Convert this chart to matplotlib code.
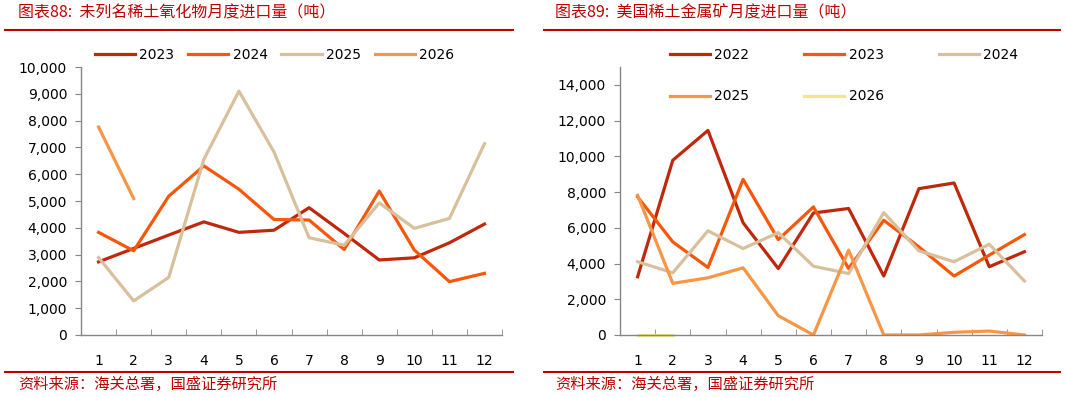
import matplotlib
matplotlib.use("Agg")
import matplotlib.pyplot as plt

plt.rcParams["font.family"] = ["DejaVu Sans", "Noto Sans CJK SC"]
plt.rcParams["axes.unicode_minus"] = False

months = list(range(1, 13))
month_labels = [str(m) for m in months]

# 图表88: 未列名稀土氧化物月度进口量（吨）
oxide_2023 = [2730, 3230, 3730, 4220, 3830, 3910, 4750, 3790, 2800, 2880, 3440, 4140]
oxide_2024 = [3830, 3140, 5180, 6310, 5440, 4310, 4290, 3190, 5370, 3170, 1990, 2300]
oxide_2025 = [2890, 1270, 2150, 6550, 9100, 6830, 3630, 3350, 4930, 3980, 4350, 7140]
oxide_2026 = [7760, 5090]

# 图表89: 美国稀土金属矿月度进口量（吨）
ore_2022 = [3260, 9780, 11450, 6280, 3720, 6830, 7080, 3300, 8190, 8510, 3820, 4660]
ore_2023 = [7730, 5210, 3780, 8710, 5340, 7170, 3720, 6420, 4930, 3300, 4470, 5620]
ore_2024 = [4100, 3480, 5830, 4840, 5730, 3850, 3440, 6850, 4710, 4100, 5080, 3020]
ore_2025 = [7820, 2890, 3200, 3760, 1080, 0, 4750, 0, 0, 150, 220, 0]
ore_2026 = [0, 0]

C_DARK = "#C0280C"
C_ORANGE = "#F8570A"
C_TAN = "#D8C09C"
C_LIGHT = "#F79646"
C_YELLOW = "#F5E48A"
RED = "#C00000"
GRAY = "#868686"
CJK = ["Noto Sans CJK SC", "DejaVu Sans"]

fig = plt.figure(figsize=(10.65, 3.97), dpi=100)


def style_axes(ax, ymax, ystep, ytop):
    ax.set_xlim(0.5, 12.5)
    ax.set_ylim(0, ymax)
    ax.set_yticks(range(0, ytop + 1, ystep))
    ax.set_yticklabels([f"{v:,}" for v in range(0, ytop + 1, ystep)])
    ax.set_xticks(months)
    ax.set_xticklabels(month_labels)
    ax.set_xticks([m + 0.5 for m in months], minor=True)
    ax.tick_params(axis="x", which="major", length=0, pad=14, labelsize=10)
    ax.tick_params(axis="x", which="minor", direction="in", length=4, color=GRAY)
    ax.tick_params(axis="y", direction="out", length=4, color=GRAY, pad=6, labelsize=10)
    for s in ["top", "right"]:
        ax.spines[s].set_visible(False)
    for s in ["left", "bottom"]:
        ax.spines[s].set_color(GRAY)
        ax.spines[s].set_linewidth(1.0)


lw = 2.3

# 左图
ax1 = fig.add_axes([0.0761, 0.1562, 0.3953, 0.675])
ax1.plot(months, oxide_2023, color=C_DARK, lw=lw, label="2023")
ax1.plot(months, oxide_2024, color=C_ORANGE, lw=lw, label="2024")
ax1.plot(months, oxide_2025, color=C_TAN, lw=lw, label="2025")
ax1.plot(months[:len(oxide_2026)], oxide_2026, color=C_LIGHT, lw=lw, label="2026")
style_axes(ax1, 10000, 1000, 10000)
ax1.legend(loc="upper left", bbox_to_anchor=(0.089, 0.88), bbox_transform=fig.transFigure,
           ncol=4, frameon=False, fontsize=10, handlelength=2.9, handletextpad=0.3,
           columnspacing=1.0, borderaxespad=0, borderpad=0)

# 右图
ax2 = fig.add_axes([0.5822, 0.1562, 0.3962, 0.675])
l22, = ax2.plot(months, ore_2022, color=C_DARK, lw=lw, label="2022")
l23, = ax2.plot(months, ore_2023, color=C_ORANGE, lw=lw, label="2023")
l24, = ax2.plot(months, ore_2024, color=C_TAN, lw=lw, label="2024")
l25, = ax2.plot(months, ore_2025, color=C_LIGHT, lw=lw, label="2025")
l26, = ax2.plot(months[:len(ore_2026)], ore_2026, color=C_YELLOW, lw=lw, label="2026", clip_on=False)
style_axes(ax2, 15000, 2000, 14000)
# 按行排列图例
handles = [l22, l25, l23, l26, l24]
ax2.legend(handles, [h.get_label() for h in handles], loc="upper left",
           bbox_to_anchor=(0.629, 0.88), bbox_transform=fig.transFigure,
           ncol=3, frameon=False, fontsize=10, handlelength=2.9, handletextpad=0.3,
           columnspacing=3.95, labelspacing=2.0, borderaxespad=0, borderpad=0)

# 标题和来源
fig.text(18 / 1065, 1 - 13 / 397, "图表88:  未列名稀土氧化物月度进口量（吨）", color=RED,
         fontsize=11.5, style="italic", family=CJK, va="center", ha="left")
fig.text(555 / 1065, 1 - 13 / 397, "图表89:  美国稀土金属矿月度进口量（吨）", color=RED,
         fontsize=11.5, style="italic", family=CJK, va="center", ha="left")
fig.text(18 / 1065, 1 - 384 / 397, "资料来源：海关总署，国盛证券研究所", color=RED,
         fontsize=11, style="italic", family=CJK, va="center", ha="left")
fig.text(555 / 1065, 1 - 384 / 397, "资料来源：海关总署，国盛证券研究所", color=RED,
         fontsize=11, style="italic", family=CJK, va="center", ha="left")

for x0, x1 in [(5, 513), (544, 1060)]:
    for yy in [30, 372]:
        fig.add_artist(plt.Line2D([x0 / 1065, x1 / 1065], [1 - yy / 397, 1 - yy / 397],
                                  color=RED, lw=1.5, transform=fig.transFigure))

fig.savefig("out.png", dpi=100)
